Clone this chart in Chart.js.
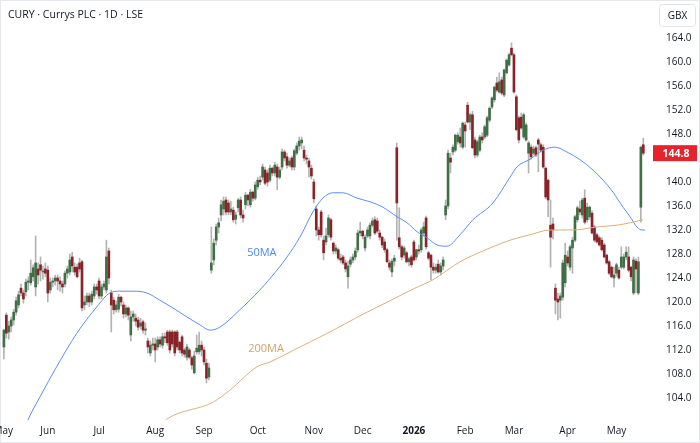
<!DOCTYPE html>
<html>
<head>
<meta charset="utf-8">
<script src="https://cdn.jsdelivr.net/npm/chart.js@4.4.1/dist/chart.umd.min.js"></script>
<style>
  html, body { margin: 0; padding: 0; background: #fff; overflow: hidden; }
  canvas { display: block; }
</style>
</head>
<body>
<canvas id="chart" width="700" height="443"></canvas>
<script>
// daily candles, May 2025 -> May 2026 (index = trading day)
const opens = [
  112.5,117.8,115.0,116.0,117.0,118.3,119.5,122.3,121.5,121.7,123.3,123.2,124.2,122.5,125.5,126.2,125.0,125.5,125.3,122.0,
  123.3,123.5,124.0,123.5,123.0,123.0,124.8,125.0,127.5,125.8,125.8,126.5,126.7,119.5,120.0,121.0,120.0,121.0,122.5,123.5,
  121.0,122.5,122.0,128.5,121.5,120.3,118.7,118.8,120.8,119.5,118.0,119.0,114.5,117.5,117.3,117.0,116.0,116.7,115.3,113.5,
  111.5,112.8,113.0,112.5,113.7,112.8,114.2,115.0,115.0,115.0,115.0,115.0,113.3,114.2,112.0,110.8,112.0,110.7,108.2,111.7,
  111.7,112.8,112.0,109.8,107.5,125.3,127.0,130.3,132.5,134.5,135.5,137.0,136.5,135.0,135.3,133.8,135.7,137.0,134.5,136.2,
  137.8,136.2,138.3,137.3,139.2,140.3,140.8,142.0,141.5,140.3,142.3,141.5,142.5,140.8,142.5,145.0,144.2,142.8,144.0,142.5,
  144.8,146.0,146.5,145.3,144.0,143.5,142.3,140.0,135.5,132.0,135.0,130.3,130.0,131.2,133.7,129.8,128.5,128.7,127.3,127.5,
  126.5,124.2,126.3,127.0,127.5,128.7,131.5,131.8,129.0,131.0,131.0,132.8,133.7,133.5,131.5,130.8,130.0,128.7,126.5,125.0,
  126.8,145.7,130.7,129.2,127.8,128.2,126.7,127.5,130.0,127.5,128.7,128.7,131.5,134.0,128.2,127.8,125.8,125.3,126.3,125.0,
  126.0,134.5,136.0,144.0,145.0,145.3,146.7,147.5,145.8,149.5,152.8,150.0,151.2,147.0,144.5,145.3,147.5,147.5,147.8,150.3,
  152.5,153.7,156.5,155.0,157.0,154.5,158.2,159.5,162.3,161.2,154.2,150.7,150.8,147.5,147.0,144.8,145.8,144.8,145.7,147.0,
  146.2,145.8,142.3,140.3,132.8,133.0,122.3,120.5,120.3,120.8,123.2,127.5,125.8,129.0,130.3,133.7,135.5,134.5,137.3,133.7,
  134.2,134.8,132.5,131.2,130.7,130.3,129.5,127.8,126.7,125.8,124.0,124.8,125.3,125.8,125.8,127.5,127.5,125.8,121.5,126.8,
  121.5,135.8,146.2
];
const highs = [
  115.5,118.2,116.8,117.5,118.8,120.8,121.8,123.0,122.0,123.8,124.2,127.0,126.2,131.0,126.5,127.5,126.0,126.5,126.0,124.0,
  124.0,124.5,124.5,124.2,123.5,125.2,126.0,128.0,128.3,126.5,126.3,127.3,127.0,121.0,121.5,121.5,121.8,123.0,123.0,124.0,
  123.0,123.5,130.3,129.0,122.0,120.8,120.2,121.3,121.0,120.0,119.5,119.2,118.5,118.5,118.0,117.5,117.3,117.0,116.5,114.0,
  113.5,114.0,114.0,114.2,114.2,114.8,114.8,115.3,115.3,115.3,115.2,115.3,113.5,114.5,112.3,113.0,112.3,111.0,111.8,114.5,
  115.0,113.5,112.5,110.5,109.8,132.5,130.5,133.0,134.0,137.0,137.5,137.5,137.0,136.8,135.8,135.0,137.3,137.5,135.3,138.3,
  138.0,138.8,138.5,140.0,140.8,141.0,143.0,142.5,142.0,142.8,142.5,143.3,143.0,142.5,145.5,145.3,144.8,144.0,144.3,145.5,
  146.5,147.5,147.5,146.0,144.5,144.0,142.8,140.5,136.0,132.5,135.3,131.0,132.3,134.5,134.0,130.0,129.5,129.0,128.0,127.8,
  127.0,126.8,127.5,128.0,129.0,132.0,133.3,132.0,131.2,132.5,133.2,134.0,134.2,134.0,132.0,131.0,130.5,129.0,127.0,127.2,
  127.8,146.5,135.7,129.5,129.3,128.5,127.5,127.8,130.3,128.8,129.5,132.3,133.3,134.3,128.5,128.0,126.5,126.3,127.0,126.5,
  127.5,137.0,145.3,144.8,146.2,148.0,148.2,149.0,150.0,150.0,153.3,151.5,151.8,147.5,147.0,147.8,148.2,149.5,151.0,152.5,
  154.2,156.0,157.5,158.2,157.5,158.8,160.5,161.5,163.2,161.5,154.5,151.0,151.5,151.5,149.8,146.8,146.2,146.0,146.0,147.3,
  146.5,146.2,142.5,140.5,137.0,134.0,123.0,121.5,121.5,127.0,129.8,128.5,129.5,130.8,134.5,136.0,136.8,137.3,138.7,136.5,
  136.0,135.2,132.8,131.5,131.0,130.7,129.8,128.0,127.0,126.0,125.8,126.5,125.8,129.2,128.0,129.2,129.2,126.0,127.5,127.2,
  127.5,146.0,147.3
];
const lows = [
  110.5,114.0,113.8,115.0,116.2,117.8,119.0,121.0,119.8,121.0,122.0,122.8,123.5,121.0,123.0,123.5,123.8,124.2,120.0,121.5,
  122.5,122.8,122.0,121.8,121.5,122.5,124.0,124.5,125.0,124.5,124.0,125.0,118.5,118.7,119.5,119.2,119.5,120.5,121.3,120.5,
  120.5,122.0,121.5,123.0,115.0,118.0,118.3,118.3,119.3,117.3,117.5,117.0,113.5,116.8,116.0,115.3,115.5,114.8,114.5,111.5,
  111.0,112.0,110.0,112.0,112.5,112.3,113.2,112.8,111.5,112.5,111.0,112.0,111.5,111.0,110.8,110.3,110.5,108.8,108.0,111.3,
  111.3,111.0,109.5,106.5,107.0,124.8,126.2,129.5,131.5,133.5,134.5,134.5,134.5,134.5,133.3,133.0,135.0,134.0,133.3,135.5,
  136.0,135.8,136.8,137.0,138.8,139.5,140.3,139.5,139.3,140.0,141.0,141.0,138.7,140.5,142.0,143.5,142.3,142.5,142.0,142.0,
  144.5,145.3,145.5,143.5,143.0,140.8,140.5,136.5,131.0,130.3,130.8,127.0,129.5,130.8,130.3,128.0,128.0,127.0,126.5,126.2,
  125.0,122.3,125.8,126.5,127.0,128.3,131.0,130.5,128.5,130.7,130.5,132.5,131.2,131.5,130.3,129.0,128.3,126.5,125.3,124.2,
  126.0,130.3,128.8,127.0,127.3,126.5,126.0,125.8,126.8,127.0,128.0,128.3,131.0,128.8,127.0,123.7,124.8,124.8,124.8,124.5,
  125.3,133.7,135.5,141.5,144.5,145.0,146.3,145.8,145.5,145.8,149.8,148.7,145.5,144.0,144.2,145.0,146.5,147.2,147.5,150.0,
  152.2,153.3,155.0,154.8,154.5,154.2,158.0,159.3,161.0,154.8,148.5,146.5,148.8,147.2,146.8,141.5,143.8,144.5,144.2,141.7,
  145.0,142.3,137.2,134.2,125.8,130.5,118.0,117.0,117.3,120.3,122.5,126.0,125.3,124.8,130.0,133.3,134.5,134.0,133.0,133.3,
  133.8,131.3,130.0,129.8,129.3,128.5,127.3,126.3,124.5,124.0,122.5,124.3,123.8,125.5,125.5,127.0,125.0,123.5,121.2,121.5,
  121.2,133.3,144.5
];
const closes = [
  115.3,114.8,116.0,117.0,118.3,120.2,121.2,121.5,120.5,123.3,123.5,124.8,125.7,126.5,124.5,125.3,125.0,124.8,121.5,123.3,
  123.5,124.0,123.5,123.0,122.5,124.8,125.5,127.0,126.0,125.0,124.2,125.5,119.0,120.0,121.0,120.0,121.3,122.5,122.0,121.0,
  122.5,123.0,127.5,124.0,119.5,118.7,119.5,120.8,120.0,118.0,119.0,117.8,117.5,118.0,116.8,115.8,116.5,115.3,115.5,112.5,
  112.8,113.0,112.0,113.7,113.0,114.2,114.0,113.2,112.0,113.0,111.5,112.5,112.0,111.5,111.3,112.5,110.8,109.5,111.0,112.3,
  112.8,112.0,110.0,107.3,109.0,126.5,129.8,132.5,133.2,136.2,136.8,135.0,135.0,135.5,133.7,134.5,137.0,134.5,134.0,137.8,
  137.0,138.3,137.3,139.5,140.3,140.0,142.5,139.8,140.0,142.3,141.5,142.8,140.8,142.0,145.0,144.0,142.8,143.5,142.5,145.2,
  146.0,146.8,147.0,144.0,143.8,142.5,141.0,137.2,132.0,131.2,131.2,128.2,131.0,134.0,130.8,128.5,129.0,127.3,127.0,126.5,
  125.5,126.0,127.0,127.5,128.5,131.5,131.8,131.0,130.8,132.0,132.8,133.5,131.5,131.8,130.8,129.5,128.7,126.7,125.8,126.8,
  127.3,136.5,129.2,127.5,129.0,126.7,127.2,126.2,127.0,128.7,128.5,132.0,132.5,129.2,127.3,125.8,125.3,125.8,125.0,126.0,
  127.0,136.0,144.8,143.3,145.8,147.8,147.8,146.5,149.8,148.5,150.0,151.2,145.7,144.5,146.7,147.5,147.0,149.2,150.7,152.3,
  154.0,155.8,155.3,156.7,154.8,158.7,160.3,161.2,161.2,155.0,148.7,147.0,149.0,151.2,149.5,146.5,144.2,145.5,144.5,146.3,
  145.3,142.5,137.5,137.0,130.8,132.0,120.3,120.0,121.0,126.5,127.8,126.5,129.2,130.3,134.2,135.7,135.0,137.0,133.3,135.8,
  135.8,131.5,130.3,130.0,129.5,128.7,127.5,126.5,124.8,124.2,124.5,126.2,124.0,127.5,127.5,128.3,125.3,124.2,127.0,125.5,
  126.7,145.8,144.8
];

// moving averages: [day index, price]
const ma50 = [
  [8.5,99.0],[9.8,100.3],[14.8,104.2],[20.9,108.7],[29.9,114.8],[38.1,119.2],[43.4,121.5],[47.5,121.8],[52.9,121.8],
  [58.6,121.5],[63.9,120.3],[69.3,119.0],[75,117.5],[80.3,116.2],[84.4,115.3],[88.5,115.8],[96.7,118.7],[104.9,122.0],
  [111.9,125.3],[116,127.5],[121.3,130.8],[126.6,135.0],[130.7,137.3],[134.8,138.2],[138.9,138.2],[144.7,137.3],
  [150,136.7],[155.3,135.8],[161.1,134.2],[165.2,133.2],[169.3,131.7],[173.4,130.7],[177.5,129.5],[181.6,129.3],
  [186.9,131.2],[192.2,133.7],[200.4,136.5],[207.4,140.8],[210.2,142.5],[215.6,143.8],[220.9,145.3],[225.8,145.8],
  [230.7,145.0],[236.1,143.7],[241.4,142.0],[245.5,140.3],[249.6,138.3],[253.7,135.8],[256.6,134.2],[259.4,132.5],
  [261.5,132.0],[262.7,132.0]
];
const ma200 = [
  [65.5,100.0],[66.8,100.5],[85.7,103.3],[92.6,105.3],[103.7,109.2],[109,110.0],[121.3,112.5],[133.6,115.0],
  [145.9,117.7],[158.2,120.2],[168.4,122.3],[175.8,123.7],[186.9,126.7],[199.2,129.0],[207.4,130.3],[215.6,131.2],
  [223.8,132.0],[233.2,132.0],[243,132.5],[251.2,132.8],[256.6,133.2],[261.9,133.7]
];

const monthLabels = ['May', 'Jun', 'Jul', 'Aug', 'Sep', 'Oct', 'Nov', 'Dec', '2026', 'Feb', 'Mar', 'Apr', 'May'];
const monthStarts = [-0.3, 18, 39, 62, 82, 104, 127, 147, 168, 189, 209, 231, 251];
const priceTicks = [104, 108, 112, 116, 120, 124, 128, 132, 136, 140, 144, 148, 152, 156, 160, 164];
const lastPrice = 144.8;

const UP = '#3f6f44';
const DOWN = '#8a2328';
const WICK = '#b3b3b3';
const FONT = '"Open Sans", "Noto Sans", sans-serif';

const wicks = closes.map((c, i) => ({ x: i, y: [lows[i], highs[i]] }));
const bodies = closes.map((c, i) => ({ x: i, y: [Math.min(opens[i], c), Math.max(opens[i], c)] }));
const bodyColors = closes.map((c, i) => c >= opens[i] ? UP : DOWN);

const overlay = {
  id: 'overlay',
  afterDraw(chart) {
    const ctx = chart.ctx;
    const xs = chart.scales.x, ys = chart.scales.y;
    ctx.save();
    // frame
    ctx.strokeStyle = '#e6e8ee';
    ctx.lineWidth = 1;
    ctx.strokeRect(0.5, 0.5, 699, 442);
    // title
    ctx.fillStyle = '#131722';
    ctx.font = '10.5px ' + FONT;
    ctx.textBaseline = 'middle';
    ctx.textAlign = 'left';
    ctx.fillText('CURY · Currys PLC · 1D · LSE', 8, 15);
    // currency box
    ctx.strokeStyle = '#e0e3eb';
    ctx.beginPath();
    ctx.roundRect(659.5, 4.5, 36, 22, 3);
    ctx.stroke();
    ctx.fillStyle = '#131722';
    ctx.textAlign = 'center';
    ctx.font = '10px ' + FONT;
    ctx.fillText('GBX', 677.5, 16);
    // month labels on the x scale
    monthLabels.forEach((m, i) => {
      ctx.font = (m === '2026' ? 'bold ' : '') + '10px ' + FONT;
      ctx.fillText(m, xs.getPixelForValue(monthStarts[i]), 431);
    });
    // MA labels
    ctx.font = '11px ' + FONT;
    ctx.fillStyle = '#4f86ee';
    ctx.fillText('50MA', xs.getPixelForValue(105.7), ys.getPixelForValue(128.2));
    ctx.fillStyle = '#d2a26c';
    ctx.fillText('200MA', xs.getPixelForValue(107.4), ys.getPixelForValue(112.2));
    // last price tag
    const py = ys.getPixelForValue(lastPrice);
    ctx.fillStyle = '#e3242f';
    ctx.fillRect(653, py - 8, 44, 16);
    ctx.fillStyle = '#fff';
    ctx.font = 'bold 10.5px ' + FONT;
    ctx.fillText(lastPrice.toFixed(1), 676, py + 0.5);
    ctx.restore();
  }
};

new Chart(document.getElementById('chart'), {
  data: {
    datasets: [
      {
        type: 'line',
        data: ma200.map(p => ({ x: p[0], y: p[1] })),
        borderColor: '#dcb07c',
        borderWidth: 1,
        pointRadius: 0,
        cubicInterpolationMode: 'monotone'
      },
      {
        type: 'line',
        data: ma50.map(p => ({ x: p[0], y: p[1] })),
        borderColor: '#5b8ff2',
        borderWidth: 1,
        pointRadius: 0,
        cubicInterpolationMode: 'monotone'
      },
      {
        type: 'bar',
        data: bodies,
        backgroundColor: bodyColors,
        barThickness: 2,
        minBarLength: 1,
        grouped: false
      },
      {
        type: 'bar',
        data: wicks,
        backgroundColor: WICK,
        barThickness: 1,
        grouped: false
      }
    ]
  },
  options: {
    responsive: false,
    animation: false,
    devicePixelRatio: 1,
    layout: { padding: 0 },
    plugins: { legend: { display: false }, tooltip: { enabled: false } },
    scales: {
      x: {
        type: 'linear',
        offset: false,
        min: -1.6,
        max: 266.8,
        grid: { display: false },
        border: { display: false },
        afterBuildTicks: s => { s.ticks = monthStarts.map(v => ({ value: v })); },
        afterFit: s => { s.height = 23; s.paddingLeft = 0; s.paddingRight = 0; },
        ticks: { display: false }
      },
      y: {
        position: 'right',
        min: 100.33,
        max: 170.33,
        grid: { display: false },
        border: { display: false },
        afterBuildTicks: s => { s.ticks = priceTicks.map(v => ({ value: v })); },
        afterFit: s => { s.width = 45; s.paddingTop = 0; s.paddingBottom = 0; },
        ticks: {
          crossAlign: 'center',
          color: '#131722',
          font: { family: FONT, size: 10 },
          callback: v => v.toFixed(1)
        }
      }
    }
  },
  plugins: [overlay]
});
</script>
</body>
</html>
